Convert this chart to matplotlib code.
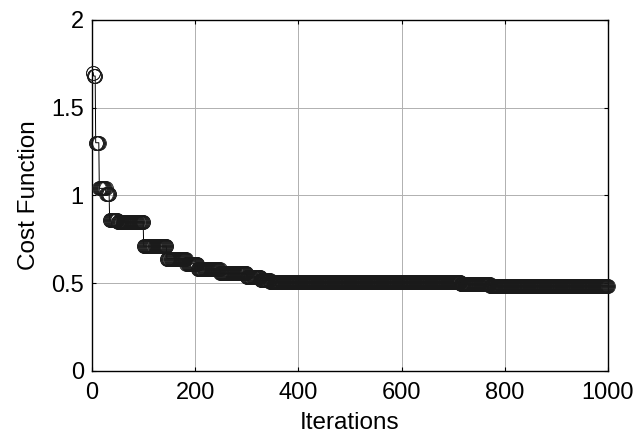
"""
Cost function vs. iterations (optimizer convergence).
"""
import numpy as np
import matplotlib
matplotlib.use('Agg')
import matplotlib.pyplot as plt

N_ITER = 1000

# step levels of the best cost: iteration where each level starts, and its value
step_start = [1, 3, 7, 14, 27, 34, 50, 100, 145, 183, 205, 248, 300, 327, 345, 715, 772]
step_value = [1.70, 1.68, 1.30, 1.04, 1.01, 0.86, 0.85, 0.71, 0.64, 0.61, 0.58,
              0.555, 0.535, 0.515, 0.505, 0.495, 0.485]

x_ticks = [0, 200, 400, 600, 800, 1000]
y_ticks = [0, 0.5, 1, 1.5, 2]


def main():
    plt.rc('font', family=['Liberation Sans', 'DejaVu Sans'])
    plt.rc('xtick', labelsize=17)
    plt.rc('ytick', labelsize=17)
    plt.rc('axes', labelsize=17.5)

    # expand the step levels to one value per iteration
    lengths = np.diff(step_start + [N_ITER + 1])
    cost = np.repeat(step_value, lengths)
    iters = np.arange(1, N_ITER + 1)

    fig = plt.figure(figsize=(6.44, 4.42), dpi=100)
    ax = fig.add_axes([0.143, 0.161, 0.801, 0.794])

    ax.plot(iters, cost, color='k', linewidth=0.7, marker='o', markersize=10,
            markerfacecolor='none', markeredgecolor='#1a1a1a', markeredgewidth=0.6,
            clip_on=False, zorder=3)

    ax.set_xlim(0, 1000)
    ax.set_ylim(0, 2)
    ax.set_xticks(x_ticks)
    ax.set_yticks(y_ticks)
    ax.set_yticklabels(['0', '0.5', '1', '1.5', '2'])
    ax.grid(True, color='#b0b0b0', linewidth=0.7)
    ax.tick_params(direction='in', top=True, right=True, length=3, width=0.8)
    ax.tick_params(axis='x', pad=8)
    ax.tick_params(axis='y', pad=6)
    for s in ax.spines.values():
        s.set_linewidth(1.0)

    ax.set_xlabel('Iterations', labelpad=6)
    ax.set_ylabel('Cost Function', labelpad=8)

    plt.savefig('out.png', dpi=100)


if __name__ == '__main__':
    main()
